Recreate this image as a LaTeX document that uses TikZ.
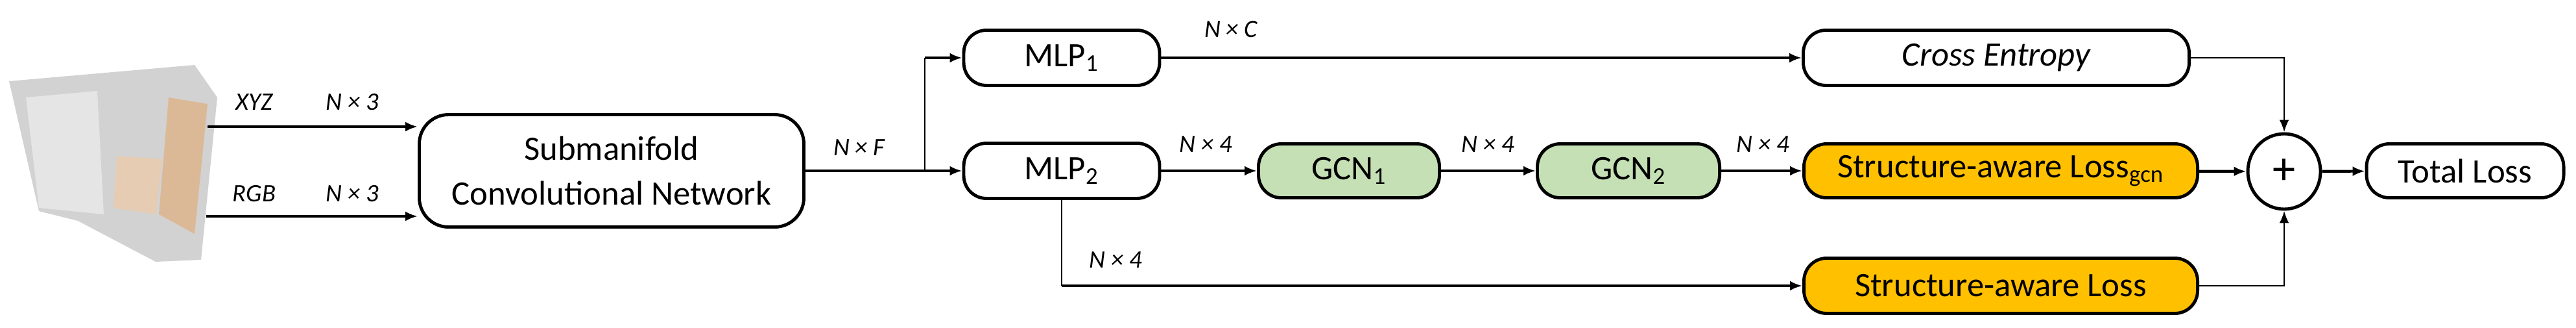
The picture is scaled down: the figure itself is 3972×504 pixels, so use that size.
\documentclass[tikz,border=0pt]{standalone}
\usepackage{fontspec}
\setmainfont{Carlito}
\usetikzlibrary{arrows.meta,positioning,shapes.geometric}
\definecolor{gcngreen}{HTML}{C5E0B4}
\definecolor{lossorange}{HTML}{FFC000}

\begin{document}
\begin{tikzpicture}[x=0.1mm,y=-0.1mm,
    box/.style={draw,line width=1.4pt,rounded corners=3.5mm,align=center,
                font=\fontsize{15}{17}\selectfont,inner sep=0pt},
    gcn/.style={box,fill=gcngreen},
    loss/.style={box,fill=lossorange},
    dim/.style={font=\fontsize{11}{13}\selectfont\itshape},
    flow/.style={line width=1.2pt,-{Latex[length=1.9mm,width=1.5mm]}},
    wire/.style={line width=0.8pt}]
\useasboundingbox (0,0) rectangle (3972,504);

% point cloud scene
\fill[gray!35] (14,125) -- (300,100) -- (335,150) -- (310,400) -- (240,403) -- (120,340) -- (60,325) -- cycle;
\fill[gray!20] (40,150) -- (150,140) -- (160,330) -- (60,320) -- cycle;
\fill[brown!55] (260,150) -- (320,160) -- (300,360) -- (245,330) -- cycle;
\fill[brown!40] (180,240) -- (250,245) -- (240,330) -- (175,320) -- cycle;
\coordinate (cloudx) at (320,195);
\coordinate (cloudr) at (318,333);

\node[box,minimum width=59.3mm,minimum height=17.3mm,rounded corners=4.5mm] (scn) at (943,263) {Submanifold\\[1mm]Convolutional Network};
\node[box,minimum width=30.2mm,minimum height=8.5mm] (mlp1) at (1637,89) {MLP\textsubscript{1}};
\node[box,minimum width=30.2mm,minimum height=8.5mm] (mlp2) at (1637,263) {MLP\textsubscript{2}};
\node[gcn,minimum width=27.9mm,minimum height=8.3mm] (gcn1) at (2080,263) {GCN\textsubscript{1}};
\node[gcn,minimum width=28.1mm,minimum height=8.3mm] (gcn2) at (2511,263) {GCN\textsubscript{2}};
\node[box,minimum width=59.5mm,minimum height=8.5mm,font=\fontsize{15}{17}\selectfont\itshape] (ce) at (3078,89) {Cross Entropy};
\node[loss,minimum width=60.7mm,minimum height=8.3mm] (slgcn) at (3085,263) {Structure-aware Loss\textsubscript{gcn}};
\node[loss,minimum width=60.7mm,minimum height=8.5mm] (sl) at (3085,440) {Structure-aware Loss};
\node[draw,ellipse,line width=1.4pt,minimum width=11.2mm,minimum height=11.6mm,inner sep=0pt,
      font=\fontsize{20}{22}\selectfont] (plus) at (3522,264) {+};
\node[box,minimum width=30.4mm,minimum height=8.3mm] (total) at (3801,263) {Total Loss};

% inputs
\draw[flow] (cloudx) -- (cloudx -| scn.west);
\draw[flow] (cloudr) -- (cloudr -| scn.west);
\node[dim] at (392,157) {XYZ};
\node[dim] at (543,157) {N × 3};
\node[dim] at (392,298) {RGB};
\node[dim] at (543,298) {N × 3};

% features
\coordinate (split) at (1426,263);
\draw[flow,-] (scn.east) -- (split);
\draw[flow] (split) -- (mlp2.west);
\draw[wire] (split) -- (split |- mlp1.west);
\draw[flow] (split |- mlp1.west) -- (mlp1.west);
\node[dim] at (1325,227) {N × F};

% heads
\draw[flow] (mlp1) -- (ce);
\node[dim] at (1898,45) {N × C};
\draw[flow] (mlp2) -- (gcn1);
\node[dim] at (1859,222) {N × 4};
\draw[flow] (gcn1) -- (gcn2);
\node[dim] at (2294,222) {N × 4};
\draw[flow] (gcn2) -- (slgcn);
\node[dim] at (2718,222) {N × 4};
\draw[wire] (mlp2.south) -- (mlp2.south |- sl.west);
\draw[flow] (mlp2.south |- sl.west) -- (sl.west);
\node[dim] at (1720,400) {N × 4};

% losses
\draw[wire,-{Latex[length=1.9mm,width=1.5mm]}] (ce.east) -| (plus.north);
\draw[wire,-{Latex[length=1.9mm,width=1.5mm]}] (sl.east) -| (plus.south);
\draw[flow] (slgcn) -- (plus);
\draw[flow] (plus) -- (total);
\end{tikzpicture}
\end{document}
